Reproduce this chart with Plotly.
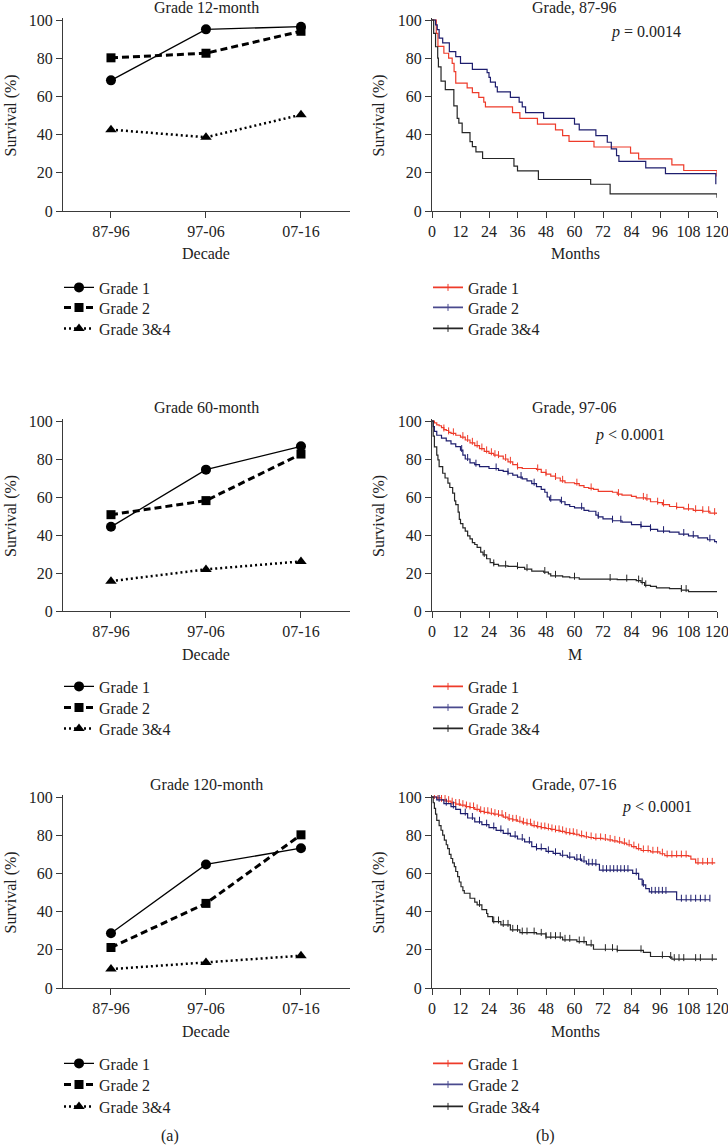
import plotly.graph_objects as go
import numpy as np

W, H = 728, 1146
FONT = "Liberation Serif, DejaVu Serif, serif"

# ---------------- data: panel (a) ----------------
decades = ["87-96", "97-06", "07-16"]
grades = ["Grade 1", "Grade 2", "Grade 3&4"]

g1_12 = [68.4, 95.1, 96.5]
g2_12 = [80.2, 82.6, 94.1]
g34_12 = [42.6, 38.6, 50.4]

g1_60 = [44.3, 74.4, 86.7]
g2_60 = [50.7, 58.1, 82.6]
g34_60 = [15.7, 21.9, 26.1]

g1_120 = [28.7, 64.7, 73.2]
g2_120 = [21.2, 44.3, 80.2]
g34_120 = [9.9, 13.4, 16.9]

# ---------------- data: panel (b) Kaplan-Meier steps ----------------
month_ticks = [0, 12, 24, 36, 48, 60, 72, 84, 96, 108, 120]
surv_ticks = [0, 20, 40, 60, 80, 100]

# 87-96
km_8796_g1_t = [0, 1.8, 2.5, 5, 7, 8.5, 9.3, 10, 14.8, 17, 19.7, 21.8, 22.5, 33.9, 37, 44.4, 52, 55, 57.7, 68.2, 83.6, 87, 101, 106, 120]
km_8796_g1_s = [100, 93, 86.2, 82.6, 80, 77.3, 73, 67, 64.5, 62, 59.5, 57, 54.5, 51.5, 48.5, 45.5, 42.5, 39.5, 36.5, 33.5, 30.3, 27.3, 24.2, 21.2, 18]
km_8796_g2_t = [0, 1.5, 2.2, 3, 4.5, 7.3, 10, 12, 17, 23.2, 24, 24.6, 26.7, 27.5, 33, 36.7, 38, 39.4, 47, 60, 62, 69, 73.8, 75.5, 77.7, 78.7, 90, 98.3, 119.5]
km_8796_g2_s = [100, 97.5, 95, 90.5, 88, 83.4, 80.8, 77.3, 74.2, 72.5, 70, 67.5, 65, 62.4, 59.5, 57, 54.5, 51.5, 48.5, 45.5, 42.5, 39.5, 36, 32.5, 29, 26, 22.6, 19.6, 14]
km_8796_g34_t = [0, 0.7, 1.5, 2.4, 2.7, 3.8, 5.6, 9.2, 10.6, 11.3, 12.7, 16, 17, 18.5, 21.3, 34.5, 36, 44.8, 66.8, 75, 120]
km_8796_g34_s = [100, 93, 86, 80, 75.5, 68, 63.5, 55, 48.5, 46, 41, 36.3, 33.7, 31, 27.5, 23.5, 21, 16.5, 14, 9, 7]

# 97-06
km_9706_g1_t = [0, 1, 2, 3, 4, 5, 6, 7, 8, 10, 12, 14, 16, 18, 20, 22, 24, 26, 28, 30, 32, 34, 36, 38, 44, 46, 48, 50, 52, 54, 56, 60, 62, 64, 66, 68, 70, 76, 78, 80, 84, 86, 90, 92, 95, 97, 100, 103, 106, 110, 114, 117, 120]
km_9706_g1_s = [100, 99, 98, 97.5, 96.5, 95.5, 95, 94, 93.5, 92.5, 91.5, 90, 88.5, 87, 85.5, 84, 83, 82, 81.5, 80, 78.5, 77, 75.5, 75, 74.5, 73, 72, 71, 70, 68.5, 67.5, 67, 66, 65, 64.5, 64, 63, 62.5, 61.5, 61, 60.3, 59.5, 59, 57.5, 57, 56, 55, 54.5, 53.8, 53, 52.5, 51.5, 51]
km_9706_g1_c = [5, 7, 9, 13, 15, 17, 19, 21, 23, 25, 26.5, 28, 31, 33, 36, 44.5, 48, 52, 55, 61, 67, 78.5, 89, 90.5, 95, 97.5, 103, 108, 111, 114, 116.5, 119]
km_9706_g2_t = [0, 0.5, 1, 2, 4, 6, 8, 10, 12, 13, 14, 16, 18, 20, 24, 28, 30, 32, 34, 36, 38, 40, 42, 44, 46, 47.5, 48.5, 49.5, 54, 56, 58, 60, 64, 66, 69, 70, 72, 76, 80, 84, 88, 92, 95, 100, 104, 108, 112, 116, 119, 120]
km_9706_g2_s = [100, 97, 94.5, 92.5, 91, 89.5, 88, 86.5, 84.7, 82, 80, 78, 77, 76, 75, 74, 73.5, 72.5, 71.5, 70.5, 69.5, 68.5, 67, 65.5, 64, 62.5, 60, 58.5, 57.5, 56, 55, 54.3, 53, 52.5, 50.5, 49.5, 48.5, 47.5, 46.8, 45.5, 44.5, 43, 42, 41.5, 40.5, 39.5, 38.5, 37.5, 36.5, 35.5]
km_9706_g2_c = [12.5, 15, 18.5, 27, 32, 37.5, 43, 50, 54.5, 63, 70, 76, 79.5, 88, 92, 97.5, 106, 110, 117]
km_9706_g34_t = [0, 0.5, 1, 2, 2.5, 3, 4.5, 5.5, 6.7, 7.5, 8.7, 9.5, 10, 11, 11.5, 12, 13, 14, 15, 16, 17, 18, 19, 20.5, 21.5, 23, 24.5, 26, 28, 32, 36, 39, 42, 47, 49, 50, 55, 58, 62, 78, 86, 88, 89.5, 92, 94.5, 100, 105, 108, 120]
km_9706_g34_s = [100, 92, 86.4, 82, 79.5, 76, 72.5, 70, 67.3, 65, 62, 58, 56, 52, 48.2, 46, 43.8, 42, 39.5, 38, 36, 35, 33.5, 31, 29.5, 27.5, 25.5, 24.5, 23.8, 23.5, 23, 22, 21, 20.5, 19.5, 18.5, 18, 17.5, 16.8, 16.5, 16, 15, 13.5, 13, 12.2, 11.8, 11, 10.2, 10]
km_9706_g34_c = [22, 26, 31, 36, 40, 47.5, 52, 60, 75, 82, 87, 88.5, 90, 105, 107]

# 07-16
km_0716_g1_t = [0, 2, 4, 6, 8, 10, 12, 14, 16, 18, 20, 22, 24, 26, 28, 30, 32, 34, 36, 38, 40, 42, 44, 46, 48, 50, 52, 54, 56, 58, 60, 62, 64, 66, 68, 72, 74, 76, 78, 80, 82, 84, 86, 88, 92, 96, 98, 108, 109, 111, 119]
km_0716_g1_s = [100, 99.5, 98.5, 97.8, 97, 96.3, 95.7, 95, 94.5, 93.5, 92.5, 92, 91.5, 91, 90.5, 89.5, 88.5, 88, 87.3, 86.5, 86, 85, 84.5, 84, 83.5, 83, 82.5, 82, 81.3, 81, 80.5, 79.8, 79.2, 78.8, 78.3, 78, 77.5, 77, 76.5, 75.8, 75, 74, 73, 72, 71.3, 70.3, 69.3, 69, 67.5, 65.5, 65.2]
km_0716_g1_c = [1, 2.5, 4, 5.5, 7, 8.5, 10, 11.5, 13, 14.5, 16, 17.5, 19, 20.5, 22, 23.5, 25, 26.5, 28, 29.5, 31, 32.5, 34, 35.5, 37, 38.5, 40, 41.5, 43, 44.5, 46, 47.5, 49, 50.5, 52, 53.5, 55, 56.5, 58, 59.5, 61, 63, 65, 67, 69, 71, 73, 75, 77, 79, 81, 83, 85, 87, 89, 91, 93, 95, 97, 99, 101, 103, 105, 107, 112, 114, 116, 118]
km_0716_g2_t = [0, 2, 5, 8, 10, 12, 15, 18, 21, 24, 27, 30, 33, 36, 39, 42, 44, 48, 51, 54, 57, 60, 63, 65, 69, 70.5, 83, 84.5, 87, 88.5, 90, 91.5, 100, 103, 117]
km_0716_g2_s = [100, 98.5, 96.5, 95, 93.5, 91.3, 89, 87, 85.5, 84, 82.5, 81, 79.5, 78, 76.5, 74, 73, 71.5, 70.5, 69.5, 68.5, 67.5, 66.5, 65, 64.8, 61.7, 61.7, 60, 57, 54, 52, 50.3, 50.3, 46.2, 46.2]
km_0716_g2_c = [3, 6, 9, 14, 17, 20, 23, 26, 29, 32, 35, 38, 41, 44, 46, 49, 52, 55, 58, 61, 62.5, 64, 66, 67.5, 69, 72, 73.5, 75, 76.5, 78, 79.5, 81, 82.5, 86, 89, 92.5, 94, 95.5, 97, 98.5, 105, 107, 109, 111, 113, 115, 117]
km_0716_g34_t = [0, 0.5, 1, 1.5, 2, 3, 3.8, 4.5, 5.2, 6, 6.6, 7.3, 8, 8.7, 9.4, 10, 10.8, 11.5, 12.2, 13, 13.6, 16, 18, 19, 21, 23, 23.5, 25.5, 29, 33, 37, 44, 48, 55, 61, 65, 68, 78, 89, 92, 100, 101, 120]
km_0716_g34_s = [100, 97, 94, 91, 87.8, 85, 82.6, 80, 77.4, 75, 73, 70, 67.8, 65.5, 63.5, 61, 58.3, 55.5, 53, 51, 49.6, 47, 45, 43.5, 41, 39, 37.4, 34.8, 33, 30.4, 29, 28.3, 26.6, 25.2, 24.3, 22.6, 20.3, 19.7, 18.6, 16.5, 16.2, 15.1, 15.1]
km_0716_g34_c = [20, 26, 28, 30, 32, 34, 36, 38, 40, 43, 46, 48, 50, 52, 54, 56, 58, 62, 64, 67, 73, 76, 78, 88, 97, 100.5, 102, 104, 106, 111, 113, 118]

RED = "#ee3b2a"
NAVY = "#1e1e6e"
BLK = "#262626"
LEG_NAVY = "#4a4a8e"
AX = "#3a3a3a"

# ---------------- layout geometry (pixels) ----------------
rows = [  # (y px of 100, y px of 0)
    (20, 211),
    (421, 611),
    (797, 988),
]
LX0, LX1 = 63, 350
RX0, RX1 = 432, 717
legend_centers = [(288, 308, 329), (687, 708, 729), (1064, 1085, 1107)]


def ydom(y100, y0):
    ytop = y100 - (y0 - y100) / 100.0  # value 101
    return [1 - y0 / H, 1 - ytop / H]


fig = go.Figure()

axis_common = dict(
    showline=True, linecolor=AX, linewidth=1.3, ticks="outside", ticklen=6,
    tickwidth=1.3, tickcolor=AX, showgrid=False, zeroline=False,
    ticklabeloverflow="allow", automargin=False,
    tickfont=dict(family=FONT, size=16, color="#222"),
)

left_sets = [
    (g1_12, g2_12, g34_12),
    (g1_60, g2_60, g34_60),
    (g1_120, g2_120, g34_120),
]
right_sets = [
    ((km_8796_g1_t, km_8796_g1_s, []), (km_8796_g2_t, km_8796_g2_s, []), (km_8796_g34_t, km_8796_g34_s, [])),
    ((km_9706_g1_t, km_9706_g1_s, km_9706_g1_c), (km_9706_g2_t, km_9706_g2_s, km_9706_g2_c), (km_9706_g34_t, km_9706_g34_s, km_9706_g34_c)),
    ((km_0716_g1_t, km_0716_g1_s, km_0716_g1_c), (km_0716_g2_t, km_0716_g2_s, km_0716_g2_c), (km_0716_g34_t, km_0716_g34_s, km_0716_g34_c)),
]

left_styles = [
    dict(dash="solid", width=1.3, symbol="circle", size=10),
    dict(dash="7px,4px", width=3, symbol="square", size=9),
    dict(dash="2px,3px", width=2.5, symbol="triangle-up", size=10),
]
km_colors = [RED, NAVY, BLK]
km_leg_colors = [RED, LEG_NAVY, BLK]


def step_at(ts, ss, c):
    i = np.searchsorted(np.array(ts), c, side="right") - 1
    return ss[max(i, 0)]


def legname(n):
    return "legend" if n == 1 else f"legend{n}"


legfont = dict(family=FONT, size=16, color="#222")
LEG_DY = 17.5

for r, (y100, y0) in enumerate(rows):
    li = 2 * r + 1
    ri = 2 * r + 2
    lx = "x" if li == 1 else f"x{li}"
    ly = "y" if li == 1 else f"y{li}"
    rx = f"x{ri}"
    ry = f"y{ri}"

    # left panel
    for k, vals in enumerate(left_sets[r]):
        st = left_styles[k]
        n = (li - 1) * 3 + k + 1
        fig.add_trace(go.Scatter(
            x=decades, y=vals, xaxis=lx, yaxis=ly, mode="lines+markers",
            name=grades[k], legend=legname(n), cliponaxis=False,
            line=dict(color="black", width=st["width"], dash=st["dash"]),
            marker=dict(symbol=st["symbol"], size=st["size"], color="black"),
        ))
        fig.layout[legname(n)] = dict(
            x=59 / W, y=1 - (legend_centers[r][k] - LEG_DY) / H,
            xanchor="left", yanchor="top", font=legfont,
            bgcolor="rgba(0,0,0,0)")

    # right panel
    for k, (ts, ss, cs) in enumerate(right_sets[r]):
        n = (ri - 1) * 3 + k + 1
        fig.add_trace(go.Scatter(
            x=ts, y=ss, xaxis=rx, yaxis=ry, mode="lines", line_shape="hv",
            line=dict(color=km_colors[k], width=1.2), showlegend=False,
        ))
        if cs:
            fig.add_trace(go.Scatter(
                x=cs, y=[step_at(ts, ss, c) + 0.8 for c in cs], xaxis=rx, yaxis=ry,
                mode="markers", showlegend=False,
                marker=dict(symbol="line-ns-open", size=5, color=km_colors[k],
                            line=dict(color=km_colors[k], width=1)),
            ))
        fig.add_trace(go.Scatter(
            x=[None], y=[None], xaxis=rx, yaxis=ry, mode="lines+markers",
            name=grades[k], legend=legname(n),
            line=dict(color=km_leg_colors[k], width=1.6),
            marker=dict(symbol="line-ns-open", size=5, color=km_leg_colors[k],
                        line=dict(color=km_leg_colors[k], width=1)),
        ))
        fig.layout[legname(n)] = dict(
            x=428 / W, y=1 - (legend_centers[r][k] - LEG_DY) / H,
            xanchor="left", yanchor="top", font=legfont,
            bgcolor="rgba(0,0,0,0)")

    dom = ydom(y100, y0)
    fig.layout[("xaxis" if li == 1 else f"xaxis{li}")] = dict(
        axis_common, domain=[LX0 / W, LX1 / W], anchor=ly, type="category",
        range=[-0.505, 2.516])
    fig.layout[("yaxis" if li == 1 else f"yaxis{li}")] = dict(
        axis_common, domain=dom, anchor=lx, range=[0, 101], tickvals=surv_ticks)
    fig.layout[f"xaxis{ri}"] = dict(
        axis_common, domain=[RX0 / W, RX1 / W], anchor=ry, range=[0, 120],
        tickvals=month_ticks)
    fig.layout[f"yaxis{ri}"] = dict(
        axis_common, domain=dom, anchor=rx, range=[0, 101], tickvals=surv_ticks)

# ---------------- text annotations ----------------
ann = []


def txt(x, y, s, angle=0):
    ann.append(dict(x=x / W, y=1 - y / H, xref="paper", yref="paper", text=s,
                    showarrow=False, xanchor="center", yanchor="middle",
                    textangle=angle, font=dict(family=FONT, size=16, color="#222")))


left_titles = ["Grade 12-month", "Grade 60-month", "Grade 120-month"]
right_titles = ["Grade, 87-96", "Grade, 97-06", "Grade, 07-16"]
pvals = ["<i>p</i> = 0.0014", "<i>p</i> < 0.0001", "<i>p</i> < 0.0001"]
pval_pos = [(646, 32), (630, 435), (657, 807)]
title_y = [7, 407, 784]
xlab_y = [253, 654, 1031]
right_xlabels = ["Months", "M", "Months"]

for r, (y100, y0) in enumerate(rows):
    txt(206, title_y[r], left_titles[r])
    txt(574, title_y[r], right_titles[r])
    txt(pval_pos[r][0], pval_pos[r][1], pvals[r])
    txt(206, xlab_y[r], "Decade")
    txt(575, xlab_y[r], right_xlabels[r])
    txt(11, (y100 + y0) / 2, "Survival (%)", -90)
    txt(379, (y100 + y0) / 2, "Survival (%)", -90)

txt(170, 1136, "(a)")
txt(545, 1136, "(b)")

fig.update_layout(
    width=W, height=H,
    margin=dict(l=0, r=0, t=0, b=0, pad=0, autoexpand=False),
    paper_bgcolor="white", plot_bgcolor="white",
    annotations=ann, font=dict(family=FONT, size=16, color="#222"),
)

fig.write_html(
    "out.html",
    config={"displayModeBar": False, "responsive": False},
    post_script="document.body.style.margin='0';document.body.style.padding='0';document.documentElement.style.overflow='hidden';",
)
